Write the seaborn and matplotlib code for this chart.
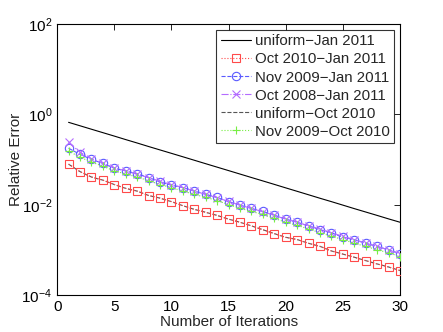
import numpy as np
import pandas as pd
import matplotlib
matplotlib.use("Agg")
import matplotlib.pyplot as plt
import seaborn as sns
from matplotlib.ticker import NullLocator

iterations = list(range(1, 31))

uniform_jan2011 = [0.665, 0.558, 0.468, 0.393, 0.330, 0.276, 0.232, 0.194, 0.163, 0.137,
                   0.115, 0.0964, 0.0808, 0.0678, 0.0569, 0.0477, 0.0400, 0.0336, 0.0282, 0.0236,
                   0.0198, 0.0166, 0.0139, 0.0117, 0.0098, 0.0082, 0.0069, 0.0058, 0.00486, 0.0041]
oct2010_jan2011 = [0.079, 0.054, 0.041, 0.035, 0.028, 0.023, 0.020, 0.016, 0.014, 0.0117,
                   0.0095, 0.0079, 0.0068, 0.0058, 0.0048, 0.0041, 0.0034, 0.0028, 0.0023, 0.0019,
                   0.0017, 0.0014, 0.0012, 0.00095, 0.00081, 0.00069, 0.00058, 0.00049, 0.00042, 0.00035]
nov2009_jan2011 = [0.178, 0.130, 0.101, 0.082, 0.064, 0.056, 0.048, 0.040, 0.032, 0.027,
                   0.024, 0.020, 0.017, 0.0145, 0.0117, 0.0098, 0.0083, 0.0071, 0.0059, 0.0048,
                   0.0041, 0.0034, 0.0028, 0.0024, 0.0019, 0.0017, 0.0014, 0.0012, 0.0010, 0.00083]
oct2008_jan2011 = [0.24, 0.145, 0.105, 0.083, 0.066, 0.056, 0.047, 0.040, 0.033, 0.028,
                   0.024, 0.020, 0.017, 0.0143, 0.0118, 0.0098, 0.0083, 0.0070, 0.0058, 0.0048,
                   0.0041, 0.0034, 0.0029, 0.0024, 0.0020, 0.0017, 0.0014, 0.0012, 0.0010, 0.00082]
uniform_oct2010 = [0.079, 0.054, 0.041, 0.035, 0.028, 0.023, 0.020, 0.016, 0.014, 0.0117,
                   0.0095, 0.0079, 0.0068, 0.0058, 0.0048, 0.0041, 0.0034, 0.0028, 0.0023, 0.0019,
                   0.0017, 0.0014, 0.0012, 0.00095, 0.00081, 0.00069, 0.00058, 0.00049, 0.00042, 0.00035]
nov2009_oct2010 = [0.155, 0.112, 0.088, 0.071, 0.056, 0.048, 0.041, 0.034, 0.028, 0.024,
                   0.020, 0.017, 0.0145, 0.0124, 0.0100, 0.0084, 0.0071, 0.0061, 0.0050, 0.0041,
                   0.0035, 0.0029, 0.0024, 0.0020, 0.0017, 0.0014, 0.0012, 0.0010, 0.00087, 0.00071]

# name, values, style, zorder
series = [
    ("uniform\u2212Jan 2011", uniform_jan2011, dict(color="black", linestyle="-", marker=None), 3),
    ("Oct 2010\u2212Jan 2011", oct2010_jan2011, dict(color="#ff4a4a", linestyle=":", marker="s"), 3),
    ("Nov 2009\u2212Jan 2011", nov2009_jan2011, dict(color="#5a5aff", linestyle="--", marker="o"), 3),
    ("Oct 2008\u2212Jan 2011", oct2008_jan2011, dict(color="#b46cff", linestyle="-.", marker="x"), 3),
    ("uniform\u2212Oct 2010", uniform_oct2010, dict(color="#555555", linestyle="--", marker=None), 2),
    ("Nov 2009\u2212Oct 2010", nov2009_oct2010, dict(color="#77ee44", linestyle=":", marker="+"), 3),
]

sns.set_style("white")
plt.rcParams["font.family"] = ["Liberation Sans", "DejaVu Sans"]
plt.rcParams["mathtext.fontset"] = "custom"
plt.rcParams["mathtext.rm"] = "Liberation Sans"
plt.rcParams["mathtext.default"] = "regular"

fig = plt.figure(figsize=(4.43, 3.32), dpi=100)
ax = fig.add_axes([0.129, 0.111, 0.774, 0.817])

for name, vals, st, z in series:
    kw = dict(color=st["color"], linestyle=st["linestyle"], linewidth=0.8, zorder=z)
    if st["marker"] is not None:
        kw.update(marker=st["marker"], markersize=6, markerfacecolor="none",
                  markeredgewidth=0.8, markeredgecolor=st["color"])
    sns.lineplot(x=iterations, y=vals, ax=ax, label=name, **kw)

ax.set_yscale("log")
ax.set_xlim(0, 30)
ax.set_ylim(1e-4, 1e2)
ax.set_xticks([0, 5, 10, 15, 20, 25, 30])
ax.set_yticks([1e-4, 1e-2, 1e0, 1e2])
ax.yaxis.set_minor_locator(NullLocator())
ax.tick_params(direction="in", top=True, right=True, length=4, width=0.6,
               labelsize=11, colors="black")
for s in ax.spines.values():
    s.set_color("black")
    s.set_linewidth(0.8)

ax.set_xlabel("Number of Iterations", fontsize=11, labelpad=1)
ax.set_ylabel("Relative Error", fontsize=11, labelpad=-1)

leg = ax.legend(loc="upper right", fontsize=10.8, frameon=True, fancybox=False,
                edgecolor="black", borderpad=0.3, labelspacing=0.27,
                handlelength=2.0, handletextpad=0.25, borderaxespad=0.4)
leg.get_frame().set_linewidth(0.8)

fig.savefig("out.png", dpi=100)
